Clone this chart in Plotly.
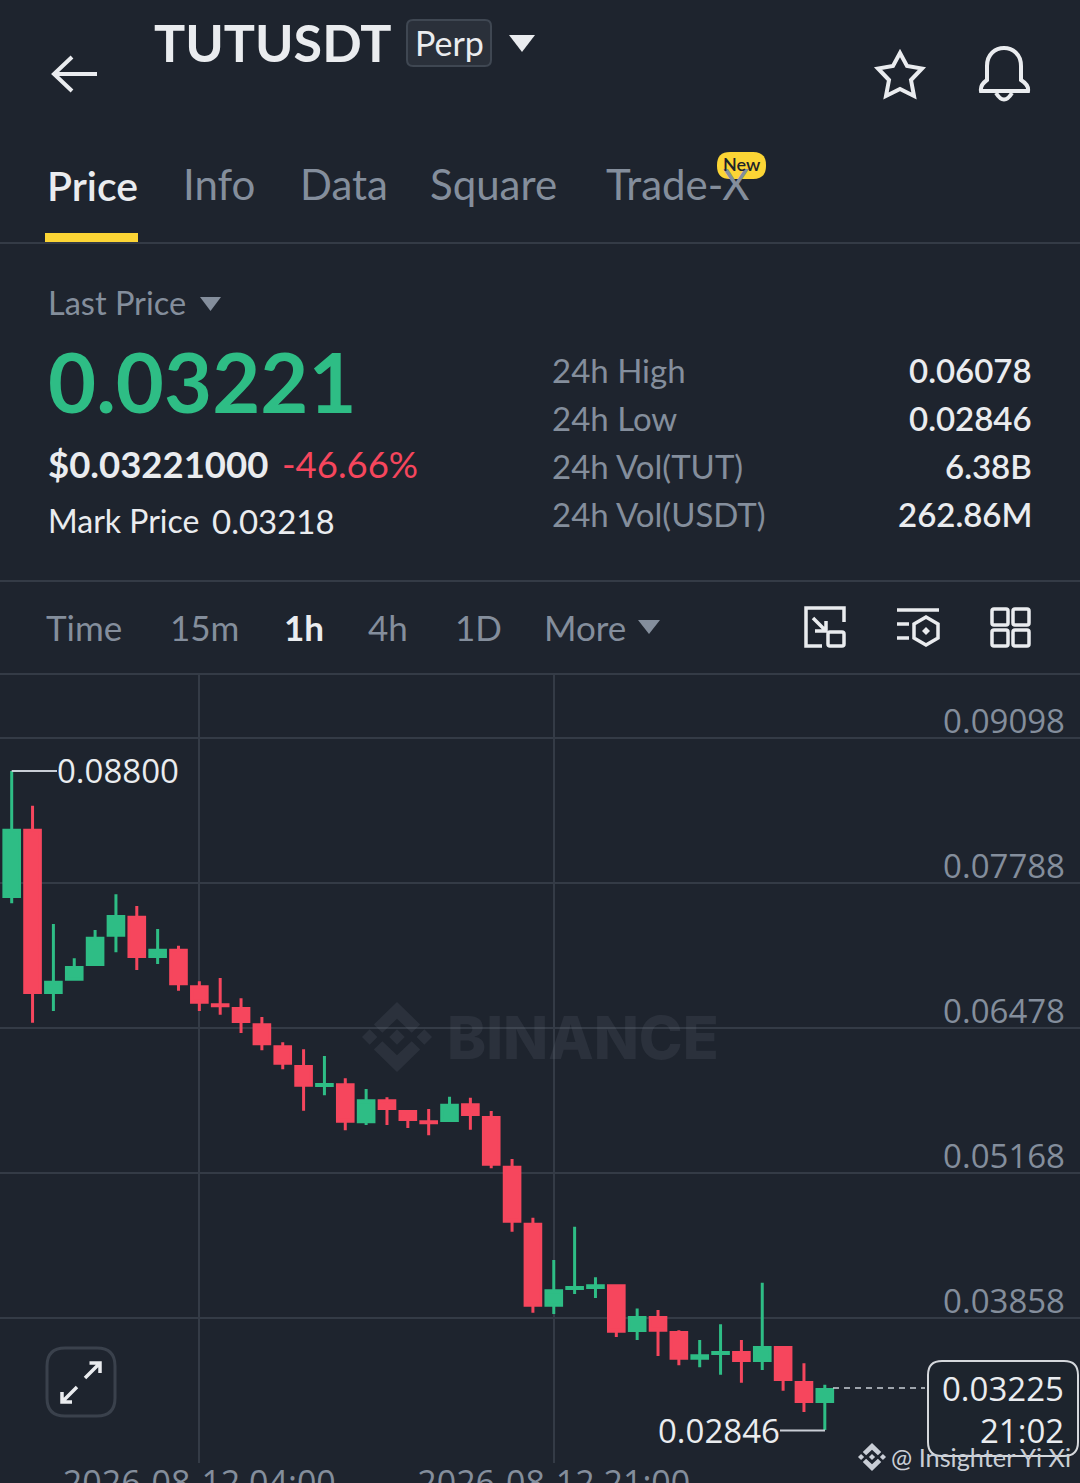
import plotly.graph_objects as go

W = 1080
H = 1483
BG = "#1e242e"
WHITE = "#eaecef"
GRAY = "#848e9c"
LINE = "#343b46"
GREEN = "#2ebd85"
RED = "#f6465d"
YELLOW = "#fcd535"
FONT = "Lato"
CHART_FONT = "Open Sans"

# hourly candles
times = [
    "2026-08-11 19:00", "2026-08-11 20:00", "2026-08-11 21:00", "2026-08-11 22:00", "2026-08-11 23:00",
    "2026-08-12 00:00", "2026-08-12 01:00", "2026-08-12 02:00", "2026-08-12 03:00", "2026-08-12 04:00",
    "2026-08-12 05:00", "2026-08-12 06:00", "2026-08-12 07:00", "2026-08-12 08:00", "2026-08-12 09:00",
    "2026-08-12 10:00", "2026-08-12 11:00", "2026-08-12 12:00", "2026-08-12 13:00", "2026-08-12 14:00",
    "2026-08-12 15:00", "2026-08-12 16:00", "2026-08-12 17:00", "2026-08-12 18:00", "2026-08-12 19:00",
    "2026-08-12 20:00", "2026-08-12 21:00", "2026-08-12 22:00", "2026-08-12 23:00", "2026-08-13 00:00",
    "2026-08-13 01:00", "2026-08-13 02:00", "2026-08-13 03:00", "2026-08-13 04:00", "2026-08-13 05:00",
    "2026-08-13 06:00", "2026-08-13 07:00", "2026-08-13 08:00", "2026-08-13 09:00", "2026-08-13 10:00",
]
opens = [
    0.07666, 0.08265, 0.06799, 0.06919, 0.07052, 0.07316, 0.07479, 0.07124, 0.07181, 0.06850,
    0.06688, 0.06654, 0.06507, 0.06308, 0.06130, 0.05959, 0.05965, 0.05631, 0.05820, 0.05724,
    0.05630, 0.05642, 0.05784, 0.05669, 0.05220, 0.04705, 0.03974, 0.04124, 0.04134, 0.04149,
    0.03745, 0.03862, 0.03727, 0.03495, 0.03538, 0.03546, 0.03474, 0.03591, 0.03275, 0.03104,
]
highs = [
    0.08800, 0.08486, 0.07418, 0.07108, 0.07363, 0.07686, 0.07580, 0.07372, 0.07222, 0.06900,
    0.06930, 0.06746, 0.06577, 0.06349, 0.06286, 0.06225, 0.06024, 0.05927, 0.05852, 0.05737,
    0.05746, 0.05857, 0.05848, 0.05728, 0.05294, 0.04764, 0.04382, 0.04683, 0.04226, 0.04163,
    0.03944, 0.03930, 0.03747, 0.03659, 0.03801, 0.03659, 0.04177, 0.03605, 0.03449, 0.03255,
]
lows = [
    0.07605, 0.06526, 0.06632, 0.06905, 0.07038, 0.07162, 0.07002, 0.07056, 0.06815, 0.06632,
    0.06598, 0.06433, 0.06277, 0.06105, 0.05731, 0.05870, 0.05554, 0.05602, 0.05602, 0.05575,
    0.05509, 0.05629, 0.05559, 0.05210, 0.04638, 0.03906, 0.03894, 0.04075, 0.04039, 0.03686,
    0.03659, 0.03515, 0.03431, 0.03413, 0.03346, 0.03274, 0.03388, 0.03201, 0.03009, 0.02846,
]
closes = [
    0.08265, 0.06799, 0.06892, 0.07025, 0.07289, 0.07485, 0.07124, 0.07181, 0.06877, 0.06711,
    0.06679, 0.06537, 0.06335, 0.06160, 0.05961, 0.05968, 0.05636, 0.05820, 0.05751, 0.05651,
    0.05621, 0.05781, 0.05697, 0.05248, 0.04733, 0.03974, 0.04104, 0.04134, 0.04149, 0.03739,
    0.03862, 0.03748, 0.03495, 0.03517, 0.03547, 0.03474, 0.03591, 0.03302, 0.03104, 0.03212,
]
price_ticks = [0.09098, 0.07788, 0.06478, 0.05168, 0.03858, 0.02548]
price_labels = ["0.09098", "0.07788", "0.06478", "0.05168", "0.03858", "0.02548"]
time_ticks = ["2026-08-12 04:00", "2026-08-12 21:00"]
time_labels = ["2026-08-12 04:00", "2026-08-12 21:00"]

tabs = [("Price", 47, WHITE), ("Info", 183, GRAY), ("Data", 300, GRAY), ("Square", 430, GRAY), ("Trade-X", 606, GRAY)]
intervals = [("Time", 46, GRAY), ("15m", 170, GRAY), ("1h", 284, WHITE), ("4h", 368, GRAY), ("1D", 455, GRAY), ("More", 544, GRAY)]
stat_names = ["24h High", "24h Low", "24h Vol(TUT)", "24h Vol(USDT)"]
stat_values = ["0.06078", "0.02846", "6.38B", "262.86M"]
stat_rows = [372, 420, 467, 515]


def pth(s):
    # path written in screen pixels -> paper coordinates
    out = []
    is_x = True
    for tok in s.split():
        if tok.isalpha():
            out.append(tok)
            is_x = True
        else:
            out.append(str(float(tok) / W if is_x else 1 - float(tok) / H))
            is_x = not is_x
    return " ".join(out)


shapes = []
annots = []


def stroke(s, color=WHITE, width=3.5, fill=None, dash=None):
    d = dict(type="path", path=pth(s), xref="paper", yref="paper", line=dict(color=color, width=width, dash=dash))
    if fill:
        d["fillcolor"] = fill
    shapes.append(d)


def solid(s, color):
    shapes.append(dict(type="path", path=pth(s), xref="paper", yref="paper", fillcolor=color, line=dict(width=0)))


def rrect(x0, y0, x1, y1, r):
    return (f"M {x0 + r} {y0} L {x1 - r} {y0} Q {x1} {y0} {x1} {y0 + r} L {x1} {y1 - r} Q {x1} {y1} {x1 - r} {y1} "
            f"L {x0 + r} {y1} Q {x0} {y1} {x0} {y1 - r} L {x0} {y0 + r} Q {x0} {y0} {x0 + r} {y0} Z")


def label(text, x, y, size, color=WHITE, anchor="left", weight=400, family=FONT):
    # Lato sits a bit low in its line box
    if family == FONT:
        y -= 1.5
    annots.append(dict(text=text, x=x / W, y=1 - y / H, xref="paper", yref="paper", showarrow=False,
                       xanchor=anchor, yanchor="middle", borderpad=0, borderwidth=0,
                       font=dict(family=family, size=size, color=color, weight=weight)))


def logo(cx, cy, r, color):
    def poly(pts):
        return "M " + " L ".join(f"{cx + a * r} {cy + b * r}" for a, b in pts) + " Z"
    for dx in (-0.78, 0, 0.78):
        solid(poly([(dx, -0.22), (dx + 0.22, 0), (dx, 0.22), (dx - 0.22, 0)]), color)
    for sg in (-1, 1):
        solid(poly([(0, sg), (0.66, sg * 0.36), (0.42, sg * 0.12), (0, sg * 0.52), (-0.42, sg * 0.12), (-0.66, sg * 0.36)]), color)


# header
stroke("M 97 74 L 54 74 M 72 57 L 54 74 L 72 91", width=4)
label("TUTUSDT", 154, 44, 52, WHITE, weight=700)
stroke(rrect(407, 20, 491, 66, 6), "#3f4752", 2, fill="#2a303a")
label("Perp", 449, 44, 34, WHITE, "center")
solid("M 509 35 L 535 35 L 522 52 Z", WHITE)
stroke("M 900 53 L 907 66 L 922 68.5 L 911 80 L 914 96 L 900 89 L 886 96 L 889 80 L 878 68.5 L 893 66 Z", width=4)
stroke("M 981 91 L 1028 91 Q 1029 85 1021 80 L 1021 66 C 1021 42 987 42 987 66 L 987 80 Q 980 85 981 91 Z", width=4)
stroke("M 996 93 Q 1004 106 1012 93", width=4)

# tabs
for name, x, col in tabs:
    if name == "Price":
        label(name, x, 187, 41, col, weight=600)
    else:
        label(name, x, 186, 42, col)
solid("M 45 233 L 138 233 L 138 242 L 45 242 Z", YELLOW)
solid(rrect(717, 152, 766, 179, 13), YELLOW)
label("New", 741.5, 165.5, 18, "#1e2329", "center", 600)
for yy in (243, 581, 674):
    stroke(f"M 0 {yy} L 1080 {yy}", LINE, 2)

# price block
label("Last Price", 48, 304, 32.5, GRAY)
solid("M 200 297 L 221 297 L 210.5 311 Z", GRAY)
label("0.03221", 48, 382, 83, GREEN, weight=700)
label("$0.03221000", 48, 465, 36.5, WHITE, weight=700)
label("-46.66%", 282, 465, 36.5, RED)
label("Mark Price", 48, 522, 32, WHITE)
label("0.03218", 212, 522, 33, WHITE)
for name, val, yy in zip(stat_names, stat_values, stat_rows):
    label(name, 552, yy, 33, GRAY)
    label(val, 1032, yy, 33, WHITE, "right", 600)

# interval row
for name, x, col in intervals:
    label(name, x, 628, 35, col, weight=700 if name == "1h" else 400)
solid("M 638 620 L 660 620 L 649 634 Z", GRAY)
stroke("M 844 622 L 844 608 L 806 608 L 806 646 L 822 646")
stroke(rrect(828, 632, 844, 646, 2))
stroke("M 813 618 L 826 631 M 826 621 L 826 631 L 815 631")
stroke("M 897 610 L 939 610 M 897 624 L 909 624 M 897 638 L 909 638")
stroke("M 926 617 L 938 624 L 938 638 L 926 645 L 914 638 L 914 624 Z")
solid("M 926 627 L 930 631 L 926 635 L 922 631 Z", WHITE)
for x0 in (992, 1013):
    for y0 in (609, 630):
        stroke(rrect(x0, y0, x0 + 16, y0 + 16, 2))

# chart overlays
logo(397, 1037, 35, "rgba(132,142,156,0.13)")
label("BINANCE", 447, 1037, 59, "rgba(132,142,156,0.13)", weight=800, family="Inter")
stroke(rrect(47, 1348, 115, 1416, 18), "#3a414c", 3)
stroke("M 85 1378 L 100 1363 M 89.5 1363 L 100 1363 L 100 1373", width=3.5)
stroke("M 77 1387 L 62 1402 M 62 1392 L 62 1402 L 72 1402", width=3.5)

stroke("M 11.7 771 L 57 771", "#c9ced6", 2)
label(f"{max(highs):.5f}", 57, 771, 33, WHITE, family=CHART_FONT)
stroke("M 780 1430.5 L 825 1430.5", "#c9ced6", 2)
label(f"{min(lows):.5f}", 658, 1430, 33, WHITE, family=CHART_FONT)
stroke("M 833 1388 L 925 1388", "#c9ced6", 1.5, dash="6px,5px")

stroke(rrect(928, 1361, 1078, 1456, 14), "#d5d8dc", 2, fill="rgba(30,36,46,0.88)")
label("0.03225", 1064, 1388, 33, WHITE, "right", family=CHART_FONT)
label("21:02", 1064, 1430, 33, WHITE, "right", family=CHART_FONT)
logo(872, 1457, 14, "#c9ced6")
label("@ Insighter Yi Xi", 891, 1458, 25.3, "#c9ced6", family=FONT)

candle = go.Candlestick(
    x=times, open=opens, high=highs, low=lows, close=closes,
    increasing=dict(line=dict(color=GREEN, width=3), fillcolor=GREEN),
    decreasing=dict(line=dict(color=RED, width=3), fillcolor=RED),
    whiskerwidth=0, hoverinfo="skip", showlegend=False,
)

layout = go.Layout(
    width=W, height=H,
    margin=dict(l=0, r=0, t=0, b=0),
    paper_bgcolor=BG, plot_bgcolor=BG,
    boxgap=0.25, boxgroupgap=0,
    showlegend=False,
    xaxis=dict(
        type="date", range=["2026-08-11 18:26:20", "2026-08-13 22:14:24"], rangeslider=dict(visible=False),
        tickvals=time_ticks, ticktext=time_labels, showgrid=True, gridcolor=LINE, gridwidth=1.5,
        ticks="", ticklabelstandoff=-3, zeroline=False, showline=False,
        automargin=False, tickfont=dict(family=CHART_FONT, size=34, color=GRAY),
    ),
    yaxis=dict(
        domain=[20 / H, 809 / H], range=[0.02548, 0.09676], side="right",
        tickvals=price_ticks, ticktext=price_labels, ticklabelposition="inside",
        ticklabelstandoff=12, ticklabelshift=-17, showgrid=True, gridcolor=LINE, gridwidth=1.5,
        zeroline=False, showline=False, ticks="", automargin=False,
        tickfont=dict(family=CHART_FONT, size=33, color=GRAY),
    ),
    shapes=shapes,
    annotations=annots,
)

fig = go.Figure(data=[candle], layout=layout)
fig.write_html("out.html", config=dict(displayModeBar=False),
               post_script="document.body.style.margin='0';document.body.style.overflow='hidden';")
